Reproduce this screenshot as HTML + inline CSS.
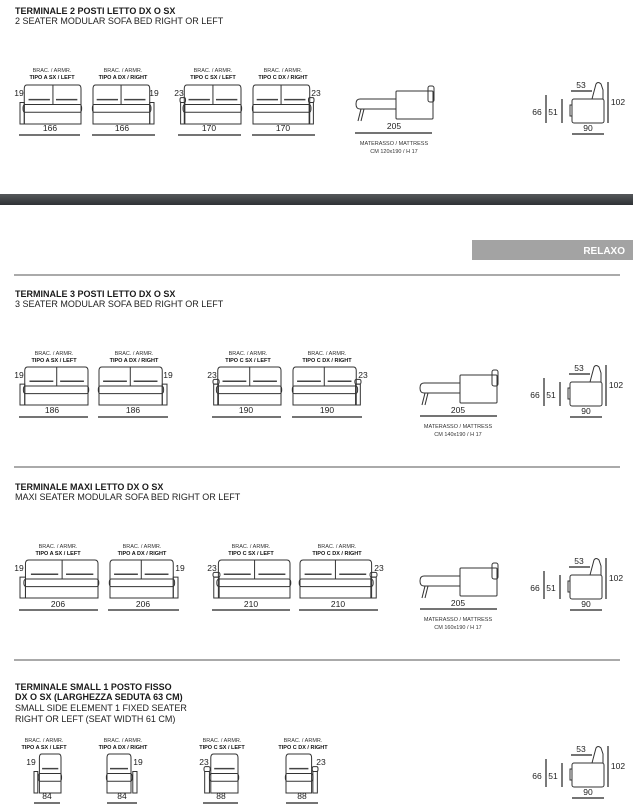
<!DOCTYPE html>
<html><head><meta charset="utf-8"><style>
html,body{margin:0;padding:0;background:#fff;}
svg{display:block;font-family:"Liberation Sans",Arial,sans-serif;}
.t{font-size:9px;font-weight:bold;fill:#1a1a1a;}
.s{font-size:9px;fill:#222;}
.l{font-size:5.5px;fill:#333;text-anchor:middle;}
.lb{font-size:5.5px;font-weight:bold;fill:#111;text-anchor:middle;}
.n{font-size:8.5px;fill:#222;text-anchor:middle;}
.d{stroke:#222;stroke-width:1.2;fill:none;}
.k *{fill:none;stroke:#333;stroke-width:1;vector-effect:non-scaling-stroke;}
.k .c{stroke-width:1.6;stroke:#444;}
</style></head><body>
<svg width="633" height="805" viewBox="0 0 633 805">
<defs>
<g id="sofa" class="k">
<path d="M7,40 V4 Q7,0 11,0 H96 Q100,0 100,4 V40 Z"/>
<rect x="5" y="20" width="96" height="8" rx="3"/>
<line x1="54" y1="0" x2="54" y2="20"/>
<line class="c" x1="14" y1="15" x2="49" y2="15"/><line class="c" x1="59" y1="15" x2="94" y2="15"/>
</g>
<g id="armA" class="k"><rect x="0" y="18" width="7" height="22"/></g>
<g id="armC" class="k"><rect x="1" y="18" width="7" height="22"/><rect x="0" y="13" width="9" height="5" rx="2"/></g>
<g id="chair" class="k">
<path d="M10,40 V4 Q10,0 14,0 H46 Q50,0 50,4 V40 Z"/>
<rect x="8" y="20" width="43" height="8" rx="3"/>
<line class="c" x1="15" y1="15" x2="45" y2="15"/>
</g>
<g id="bed" class="k">
<path d="M40,13 H4 Q0,13 0,18 Q0,23 4,23 H40"/>
<rect x="40" y="5" width="37" height="28" rx="1"/>
<rect x="72" y="0" width="6" height="16" rx="2"/>
<line x1="5" y1="23" x2="2" y2="35"/><line x1="8" y1="23" x2="5" y2="35"/>
</g>
<g id="side">
<g class="k"><rect x="2" y="0" width="32" height="24" rx="2"/><rect x="0" y="6" width="2" height="11"/>
<path d="M22,0 L26,-15 Q28,-18 31,-15 L33,-9 V0"/></g>
<text x="11" y="-11" class="n">53</text><line x1="1" y1="-8" x2="22" y2="-8" class="d"/>
<text x="-33" y="16" class="n">66</text><line x1="-24" y1="-4" x2="-24" y2="24" class="d"/>
<text x="-17" y="16" class="n">51</text><line x1="-8" y1="0" x2="-8" y2="24" class="d"/>
<line x1="38" y1="-17" x2="38" y2="24" class="d"/><text x="48" y="6" class="n">102</text>
<text x="18" y="32" class="n">90</text><line x1="2" y1="35" x2="34" y2="35" class="d"/>
</g>
</defs>

<!-- Section 1 -->
<text x="15" y="14" class="t">TERMINALE 2 POSTI LETTO DX O SX</text>
<text x="15" y="24" class="s">2 SEATER MODULAR SOFA BED RIGHT OR LEFT</text>
<g>
<text x="52" y="72" class="l">BRAC. / ARMR.</text><text x="52" y="79" class="lb">TIPO A SX / LEFT</text>
<text x="123" y="72" class="l">BRAC. / ARMR.</text><text x="123" y="79" class="lb">TIPO A DX / RIGHT</text>
<text x="213" y="72" class="l">BRAC. / ARMR.</text><text x="213" y="79" class="lb">TIPO C SX / LEFT</text>
<text x="283" y="72" class="l">BRAC. / ARMR.</text><text x="283" y="79" class="lb">TIPO C DX / RIGHT</text>
<svg x="20" y="85" width="61" height="39" viewBox="0 0 100 40" preserveAspectRatio="none" overflow="visible"><use href="#sofa"/><use href="#armA"/></svg>
<svg x="93" y="85" width="61" height="39" viewBox="0 0 100 40" preserveAspectRatio="none" overflow="visible"><g transform="translate(100,0) scale(-1,1)"><use href="#sofa"/><use href="#armA"/></g></svg>
<svg x="180" y="85" width="61" height="39" viewBox="0 0 100 40" preserveAspectRatio="none" overflow="visible"><use href="#sofa"/><use href="#armC"/></svg>
<svg x="253" y="85" width="61" height="39" viewBox="0 0 100 40" preserveAspectRatio="none" overflow="visible"><g transform="translate(100,0) scale(-1,1)"><use href="#sofa"/><use href="#armC"/></g></svg>
<text x="19" y="96" class="n">19</text><text x="154" y="96" class="n">19</text>
<text x="179" y="96" class="n">23</text><text x="316" y="96" class="n">23</text>
<text x="50" y="131" class="n">166</text><line x1="19" y1="135" x2="80" y2="135" class="d"/>
<text x="122" y="131" class="n">166</text><line x1="92" y1="135" x2="155" y2="135" class="d"/>
<text x="209" y="131" class="n">170</text><line x1="178" y1="135" x2="241" y2="135" class="d"/>
<text x="283" y="131" class="n">170</text><line x1="252" y1="135" x2="315" y2="135" class="d"/>
</g>
<use href="#bed" x="356" y="86"/>
<text x="394" y="129" class="n">205</text><line x1="355" y1="133" x2="432" y2="133" class="d"/>
<text x="394" y="145" class="l">MATERASSO / MATTRESS</text><text x="394" y="153" class="l">CM 120x190 / H 17</text>
<use href="#side" x="570" y="99"/>

<!-- Band -->
<defs><linearGradient id="bg" x1="0" y1="0" x2="0" y2="1"><stop offset="0" stop-color="#55585b"/><stop offset="1" stop-color="#2e3134"/></linearGradient></defs>
<rect x="0" y="194" width="633" height="11" fill="url(#bg)"/>
<rect x="472" y="240" width="161" height="20" fill="#a3a3a3"/>
<text x="625" y="254" font-size="10" font-weight="bold" fill="#fff" text-anchor="end">RELAXO</text>
<line x1="14" y1="275" x2="620" y2="275" stroke="#555" stroke-width="1"/>

<!-- Section 2 -->
<text x="15" y="297" class="t">TERMINALE 3 POSTI LETTO DX O SX</text>
<text x="15" y="307" class="s">3 SEATER MODULAR SOFA BED RIGHT OR LEFT</text>
<text x="54" y="355" class="l">BRAC. / ARMR.</text><text x="54" y="362" class="lb">TIPO A SX / LEFT</text>
<text x="134" y="355" class="l">BRAC. / ARMR.</text><text x="134" y="362" class="lb">TIPO A DX / RIGHT</text>
<text x="248" y="355" class="l">BRAC. / ARMR.</text><text x="248" y="362" class="lb">TIPO C SX / LEFT</text>
<text x="327" y="355" class="l">BRAC. / ARMR.</text><text x="327" y="362" class="lb">TIPO C DX / RIGHT</text>
<svg x="20" y="367" width="68" height="38" viewBox="0 0 100 40" preserveAspectRatio="none" overflow="visible"><use href="#sofa"/><use href="#armA"/></svg>
<svg x="99" y="367" width="68" height="38" viewBox="0 0 100 40" preserveAspectRatio="none" overflow="visible"><g transform="translate(100,0) scale(-1,1)"><use href="#sofa"/><use href="#armA"/></g></svg>
<svg x="213" y="367" width="68" height="38" viewBox="0 0 100 40" preserveAspectRatio="none" overflow="visible"><use href="#sofa"/><use href="#armC"/></svg>
<svg x="293" y="367" width="68" height="38" viewBox="0 0 100 40" preserveAspectRatio="none" overflow="visible"><g transform="translate(100,0) scale(-1,1)"><use href="#sofa"/><use href="#armC"/></g></svg>
<text x="19" y="378" class="n">19</text><text x="168" y="378" class="n">19</text>
<text x="212" y="378" class="n">23</text><text x="363" y="378" class="n">23</text>
<text x="52" y="413" class="n">186</text><line x1="19" y1="417" x2="88" y2="417" class="d"/>
<text x="133" y="413" class="n">186</text><line x1="98" y1="417" x2="168" y2="417" class="d"/>
<text x="246" y="413" class="n">190</text><line x1="212" y1="417" x2="281" y2="417" class="d"/>
<text x="327" y="413" class="n">190</text><line x1="292" y1="417" x2="362" y2="417" class="d"/>
<use href="#bed" x="420" y="370"/>
<text x="458" y="413" class="n">205</text><line x1="420" y1="416" x2="497" y2="416" class="d"/>
<text x="458" y="428" class="l">MATERASSO / MATTRESS</text><text x="458" y="436" class="l">CM 140x190 / H 17</text>
<use href="#side" x="568" y="382"/>
<line x1="14" y1="467" x2="620" y2="467" stroke="#555" stroke-width="1"/>

<!-- Section 3 -->
<text x="15" y="490" class="t">TERMINALE MAXI LETTO DX O SX</text>
<text x="15" y="500" class="s">MAXI SEATER MODULAR SOFA BED RIGHT OR LEFT</text>
<text x="58" y="548" class="l">BRAC. / ARMR.</text><text x="58" y="555" class="lb">TIPO A SX / LEFT</text>
<text x="142" y="548" class="l">BRAC. / ARMR.</text><text x="142" y="555" class="lb">TIPO A DX / RIGHT</text>
<text x="251" y="548" class="l">BRAC. / ARMR.</text><text x="251" y="555" class="lb">TIPO C SX / LEFT</text>
<text x="337" y="548" class="l">BRAC. / ARMR.</text><text x="337" y="555" class="lb">TIPO C DX / RIGHT</text>
<svg x="20" y="560" width="78" height="38" viewBox="0 0 100 40" preserveAspectRatio="none" overflow="visible"><use href="#sofa"/><use href="#armA"/></svg>
<svg x="110" y="560" width="68" height="38" viewBox="0 0 100 40" preserveAspectRatio="none" overflow="visible"><g transform="translate(100,0) scale(-1,1)"><use href="#sofa"/><use href="#armA"/></g></svg>
<svg x="213" y="560" width="77" height="38" viewBox="0 0 100 40" preserveAspectRatio="none" overflow="visible"><use href="#sofa"/><use href="#armC"/></svg>
<svg x="300" y="560" width="77" height="38" viewBox="0 0 100 40" preserveAspectRatio="none" overflow="visible"><g transform="translate(100,0) scale(-1,1)"><use href="#sofa"/><use href="#armC"/></g></svg>
<text x="19" y="571" class="n">19</text><text x="180" y="571" class="n">19</text>
<text x="212" y="571" class="n">23</text><text x="379" y="571" class="n">23</text>
<text x="58" y="607" class="n">206</text><line x1="19" y1="610" x2="98" y2="610" class="d"/>
<text x="143" y="607" class="n">206</text><line x1="108" y1="610" x2="179" y2="610" class="d"/>
<text x="251" y="607" class="n">210</text><line x1="212" y1="610" x2="290" y2="610" class="d"/>
<text x="338" y="607" class="n">210</text><line x1="299" y1="610" x2="378" y2="610" class="d"/>
<use href="#bed" x="420" y="563"/>
<text x="458" y="606" class="n">205</text><line x1="420" y1="609" x2="497" y2="609" class="d"/>
<text x="458" y="621" class="l">MATERASSO / MATTRESS</text><text x="458" y="629" class="l">CM 160x190 / H 17</text>
<use href="#side" x="568" y="575"/>
<line x1="14" y1="660" x2="620" y2="660" stroke="#555" stroke-width="1"/>

<!-- Section 4 -->
<text x="15" y="690" class="t">TERMINALE SMALL 1 POSTO FISSO</text>
<text x="15" y="700" class="t">DX O SX (LARGHEZZA SEDUTA 63 CM)</text>
<text x="15" y="711" class="s">SMALL SIDE ELEMENT 1 FIXED SEATER</text>
<text x="15" y="722" class="s">RIGHT OR LEFT (SEAT WIDTH 61 CM)</text>
<text x="44" y="742" class="l">BRAC. / ARMR.</text><text x="44" y="749" class="lb">TIPO A SX / LEFT</text>
<text x="123" y="742" class="l">BRAC. / ARMR.</text><text x="123" y="749" class="lb">TIPO A DX / RIGHT</text>
<text x="222" y="742" class="l">BRAC. / ARMR.</text><text x="222" y="749" class="lb">TIPO C SX / LEFT</text>
<text x="303" y="742" class="l">BRAC. / ARMR.</text><text x="303" y="749" class="lb">TIPO C DX / RIGHT</text>
<svg x="34" y="754" width="27" height="39" viewBox="0 0 50 40" preserveAspectRatio="none" overflow="visible"><use href="#chair"/><use href="#armA"/></svg>
<svg x="107" y="754" width="30" height="39" viewBox="0 0 50 40" preserveAspectRatio="none" overflow="visible"><g transform="translate(50,0) scale(-1,1)"><use href="#chair"/><use href="#armA"/></g></svg>
<svg x="204" y="754" width="34" height="39" viewBox="0 0 50 40" preserveAspectRatio="none" overflow="visible"><use href="#chair"/><use href="#armC"/></svg>
<svg x="286" y="754" width="32" height="39" viewBox="0 0 50 40" preserveAspectRatio="none" overflow="visible"><g transform="translate(50,0) scale(-1,1)"><use href="#chair"/><use href="#armC"/></g></svg>
<text x="31" y="765" class="n">19</text><text x="138" y="765" class="n">19</text>
<text x="204" y="765" class="n">23</text><text x="321" y="765" class="n">23</text>
<text x="47" y="799" class="n">84</text><line x1="34" y1="803" x2="60" y2="803" class="d"/>
<text x="122" y="799" class="n">84</text><line x1="107" y1="803" x2="137" y2="803" class="d"/>
<text x="221" y="799" class="n">88</text><line x1="203" y1="803" x2="238" y2="803" class="d"/>
<text x="302" y="799" class="n">88</text><line x1="286" y1="803" x2="318" y2="803" class="d"/>
<use href="#side" x="570" y="763"/>
</svg>
</body></html>
